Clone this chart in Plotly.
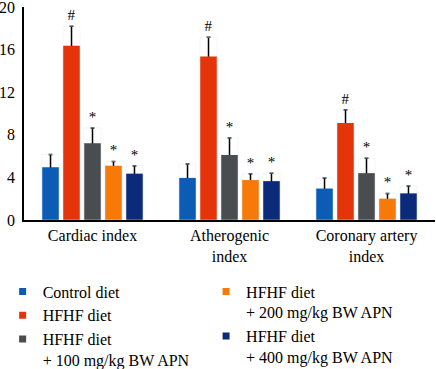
import plotly.graph_objects as go

categories = ["Cardiac index", "Atherogenic<br>index", "Coronary artery<br>index"]
series_names = [
    "Control diet",
    "HFHF diet",
    "HFHF diet<br>+ 100 mg/kg BW APN",
    "HFHF diet<br>+ 200 mg/kg BW APN",
    "HFHF diet<br>+ 400 mg/kg BW APN",
]
control = [4.95, 3.95, 2.95]
hfhf = [16.35, 15.35, 9.1]
apn100 = [7.2, 6.1, 4.4]
apn200 = [5.1, 3.75, 2.0]
apn400 = [4.35, 3.65, 2.5]

control_err = [1.2, 1.3, 1.0]
hfhf_err = [1.85, 1.8, 1.25]
apn100_err = [1.45, 1.6, 1.4]
apn200_err = [0.4, 0.6, 0.5]
apn400_err = [0.75, 0.75, 0.7]

control_sig = ["", "", ""]
hfhf_sig = ["#", "#", "#"]
apn100_sig = ["*", "*", "*"]
apn200_sig = ["*", "*", "*"]
apn400_sig = ["*", "*", "*"]

y_ticks = [0, 4, 8, 12, 16, 20]

colors = ["#0c5bb4", "#e6340a", "#4a4d4f", "#f77a08", "#0b2b7a"]

values = [control, hfhf, apn100, apn200, apn400]
errors = [control_err, hfhf_err, apn100_err, apn200_err, apn400_err]
sigs = [control_sig, hfhf_sig, apn100_sig, apn200_sig, apn400_sig]

FONT = "Liberation Serif"

fig = go.Figure()

# error bars first (drawn beneath the real bars so only the upper half shows)
for i in range(5):
    fig.add_trace(go.Bar(
        x=categories, y=values[i], offsetgroup=str(i),
        marker=dict(color="rgba(0,0,0,0)"),
        error_y=dict(type="data", array=errors[i], symmetric=True,
                     color="black", thickness=1.5, width=2),
        showlegend=False, hoverinfo="skip",
    ))

# real bars
for i in range(5):
    fig.add_trace(go.Bar(
        x=categories, y=values[i], offsetgroup=str(i),
        marker=dict(color=colors[i], line=dict(width=0)),
        showlegend=False,
    ))

# significance markers above the error bars
for i in range(5):
    tops = [v + e for v, e in zip(values[i], errors[i])]
    fig.add_trace(go.Bar(
        x=categories, y=tops, offsetgroup=str(i),
        marker=dict(color="rgba(0,0,0,0)"),
        text=sigs[i], textposition="outside", cliponaxis=False,
        textfont=dict(family=FONT, size=15, color="black"),
        showlegend=False, hoverinfo="skip",
    ))

# legend entries
for i in range(5):
    fig.add_trace(go.Scatter(
        x=[None], y=[None], mode="markers", name=series_names[i],
        marker=dict(symbol="square", size=7, color=colors[i]),
        legend="legend" if i < 3 else "legend2",
    ))

fig.update_layout(
    width=436, height=369,
    margin=dict(l=24, r=1, t=7, b=149, autoexpand=False),
    barmode="group", bargap=0.234, bargroupgap=0.19,
    plot_bgcolor="white", paper_bgcolor="white",
    font=dict(family=FONT, size=14, color="black"),
    xaxis=dict(showline=True, linecolor="black", linewidth=1.5, ticks="",
               tickfont=dict(family=FONT, size=16), showgrid=False,
               zeroline=False, automargin=False),
    yaxis=dict(range=[0, 20], tickvals=y_ticks, showline=True,
               linecolor="black", linewidth=1.5, ticks="", showgrid=False,
               zeroline=False, tickfont=dict(family=FONT, size=16),
               ticklabelstandoff=4, automargin=False,
               ticklabeloverflow="allow"),
    legend=dict(x=-0.052, y=-0.256, xanchor="left", yanchor="top",
                valign="top", tracegroupgap=0,
                font=dict(family=FONT, size=16),
                bgcolor="rgba(0,0,0,0)"),
    legend2=dict(x=0.443, y=-0.256, xanchor="left", yanchor="top",
                 valign="top", tracegroupgap=0,
                 font=dict(family=FONT, size=16),
                 bgcolor="rgba(0,0,0,0)"),
    showlegend=True,
)

fig.write_html(
    "out.html",
    config={"displayModeBar": False},
    post_script="document.body.style.margin='0';document.body.style.overflow='hidden';",
)
